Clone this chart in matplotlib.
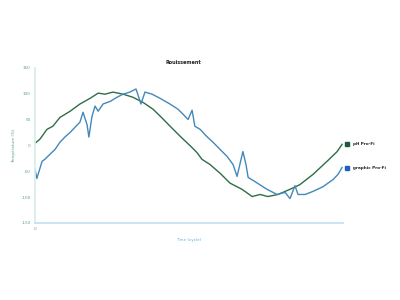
import matplotlib
matplotlib.use("Agg")
import matplotlib.pyplot as plt

# green series (smooth)
green_t = [0, 1.6, 3.9, 5.8, 8.1, 11.4, 14.6, 17.9, 20.5, 22.7, 25.3, 28.6, 31.8,
           35.1, 38.3, 40.9, 44.2, 47.4, 50.6, 52.6, 54.2, 56.8, 60.1, 63.3, 67.2,
           70.5, 73.1, 75.6, 78.9, 82.8, 86.0, 90.3, 94.8, 98.1, 99.7]
green_v = [4, 12, 31, 37, 54, 66, 80, 91, 101, 99, 103, 99, 93,
           83, 70, 55, 35, 16, -2, -14, -27, -37, -54, -73, -85,
           -99, -95, -99, -95, -85, -76, -56, -31, -12, 2]

# blue series (noisy)
blue_t = [0, 0.6, 2.3, 3.2, 4.9, 6.5, 8.1, 9.7, 11.4, 13.0, 14.6, 15.6, 16.9, 17.5,
          18.5, 19.5, 20.5, 22.1, 24.4, 26.6, 28.6, 30.8, 32.8, 34.4, 35.7, 38.0,
          40.6, 43.8, 46.4, 48.1, 49.7, 51.0, 51.9, 53.6, 55.8, 57.8, 60.1, 62.3,
          64.3, 65.6, 67.5, 68.5, 69.2, 71.4, 75.3, 78.6, 81.2, 82.8, 84.4, 85.4,
          87.7, 90.3, 93.5, 96.8, 98.4, 99.7]
blue_v = [-46, -64, -31, -27, -17, -8, 6, 16, 25, 35, 45, 64, 40, 16,
          56, 76, 66, 80, 85, 93, 99, 103, 109, 80, 103, 99,
          91, 80, 70, 60, 50, 68, 37, 31, 17, 6, -8, -21,
          -37, -60, -12, -37, -62, -70, -85, -95, -91, -103, -78, -95,
          -95, -89, -80, -66, -56, -43]

series_names = ["pH Pro-Fi", "graphic Pro-Fi"]
yticks = [-150, -100, -50, 0, 50, 100, 150]

fig = plt.figure(figsize=(4, 3), dpi=100)
ax = fig.add_axes([0.0875, 0.257, 0.77, 0.517])

ax.plot(green_t, green_v, color="#2f6d47", lw=1.0, solid_joinstyle="round")
ax.plot(blue_t, blue_v, color="#4388bb", lw=1.0, solid_joinstyle="round")

# end labels: small square + name just right of each line end
ends = [(green_t[-1], green_v[-1], "#1d5a38"), (blue_t[-1], blue_v[-1], "#1f5fc0")]
for (t, v, c), name in zip(ends, series_names):
    ax.plot([t + 1.6], [v], marker="s", ms=2.8, color=c, ls="none", clip_on=False)
    ax.annotate(name, xy=(t, v), xytext=(8, 0), textcoords="offset points",
                fontsize=3, fontweight="bold", color="#222222", va="center",
                annotation_clip=False)

ax.set_xlim(0, 100)
ax.set_ylim(-150, 150)
ax.set_yticks(yticks)
ax.set_yticklabels([str(y) for y in yticks], fontsize=3, color="#5f9e92")
ax.set_xticks([0])
ax.set_xticklabels(["0"], fontsize=3, color="#5f9e92")
ax.tick_params(length=0, pad=3)

for s in ["top", "right"]:
    ax.spines[s].set_visible(False)
ax.spines["left"].set_color("#d6eee7")
ax.spines["left"].set_linewidth(1.2)
ax.spines["bottom"].set_color("#c4e0f1")
ax.spines["bottom"].set_linewidth(1.2)

ax.set_ylabel("Température (%)", fontsize=3, color="#5f9e92", labelpad=4)
ax.set_xlabel("Time (cycle)", fontsize=3, color="#6aaedb", labelpad=5)
fig.text(183 / 400, 1 - 62 / 300, "Rouissement", fontsize=3.5, fontweight="bold",
         ha="center", va="center", color="#222222")

fig.savefig("out.png", dpi=100)
